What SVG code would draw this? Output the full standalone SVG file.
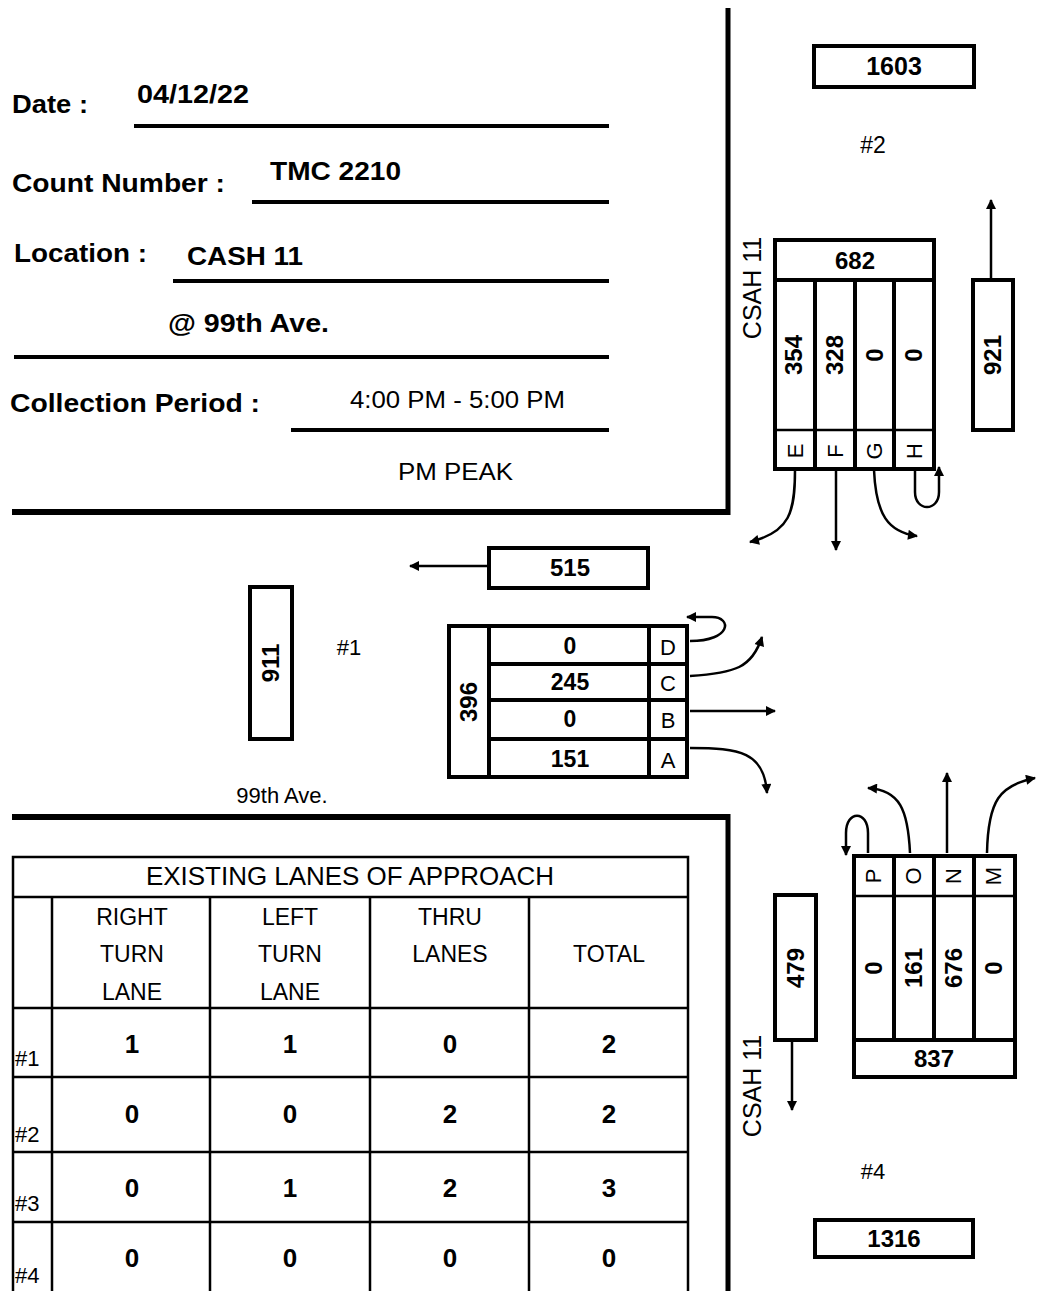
<svg xmlns="http://www.w3.org/2000/svg" width="1054" height="1291" viewBox="0 0 1054 1291">
<defs>
<style>
.b{font-family:"Liberation Sans",Arial,sans-serif;font-weight:bold;fill:#000}
.r{font-family:"Liberation Sans",Arial,sans-serif;fill:#000}
.box{fill:none;stroke:#000;stroke-width:4}
.ln{stroke:#000;stroke-width:4;fill:none}
.thin{stroke:#000;stroke-width:2.5;fill:none}
.conn{fill:none;stroke:#000;stroke-width:2.5;marker-end:url(#ah)}
.tb{stroke:#000;stroke-width:2.5;fill:none}
</style>
<marker id="ah" viewBox="0 0 10 10" refX="9" refY="5" markerWidth="5" markerHeight="4" orient="auto" markerUnits="strokeWidth">
<path d="M0,0 L10,5 L0,10 z" fill="#000"/>
</marker>
</defs>
<rect width="1054" height="1291" fill="#fff"/>

<g id="frame">
<line class="ln" x1="728" y1="8" x2="728" y2="515" style="stroke-width:5"/>
<line class="ln" x1="12" y1="512" x2="730" y2="512" style="stroke-width:6"/>
<line class="ln" x1="12" y1="817" x2="730" y2="817" style="stroke-width:6"/>
<line class="ln" x1="728" y1="814" x2="728" y2="1291" style="stroke-width:5"/>
</g>

<g id="form">
<text class="b" x="12" y="113" font-size="25" textLength="76" lengthAdjust="spacingAndGlyphs">Date :</text>
<text class="b" x="137" y="103" font-size="26" textLength="112" lengthAdjust="spacingAndGlyphs">04/12/22</text>
<line class="ln" x1="134" y1="126" x2="609" y2="126"/>
<text class="b" x="12" y="192" font-size="25" textLength="213" lengthAdjust="spacingAndGlyphs">Count Number :</text>
<text class="b" x="270" y="180" font-size="25" textLength="131" lengthAdjust="spacingAndGlyphs">TMC 2210</text>
<line class="ln" x1="252" y1="202" x2="609" y2="202"/>
<text class="b" x="14" y="262" font-size="25" textLength="133" lengthAdjust="spacingAndGlyphs">Location :</text>
<text class="b" x="187" y="265" font-size="25" textLength="116" lengthAdjust="spacingAndGlyphs">CASH 11</text>
<line class="ln" x1="173" y1="281" x2="609" y2="281"/>
<text class="b" x="168" y="332" font-size="25" textLength="161" lengthAdjust="spacingAndGlyphs">@ 99th Ave.</text>
<line class="ln" x1="14" y1="357" x2="609" y2="357"/>
<text class="b" x="10" y="412" font-size="25" textLength="250" lengthAdjust="spacingAndGlyphs">Collection Period :</text>
<text class="r" x="350" y="408" font-size="24" textLength="215" lengthAdjust="spacingAndGlyphs">4:00 PM - 5:00 PM</text>
<line class="ln" x1="291" y1="430" x2="609" y2="430"/>
<text class="r" x="398" y="480" font-size="24" textLength="115" lengthAdjust="spacingAndGlyphs">PM PEAK</text>
</g>

<g id="approach2">
<rect class="box" x="814" y="46" width="160" height="41"/>
<text class="b" x="894" y="75" font-size="25" text-anchor="middle">1603</text>
<text class="r" x="873" y="153" font-size="23" text-anchor="middle">#2</text>
<text class="r" font-size="25" text-anchor="middle" transform="translate(761,288) rotate(-90)">CSAH 11</text>
<rect class="box" x="775" y="240" width="159" height="229"/>
<line class="ln" x1="775" y1="280" x2="934" y2="280"/>
<line class="thin" x1="775" y1="430" x2="934" y2="430"/>
<line class="ln" x1="815" y1="280" x2="815" y2="469"/>
<line class="ln" x1="855" y1="280" x2="855" y2="469"/>
<line class="ln" x1="894" y1="280" x2="894" y2="469"/>
<text class="b" x="855" y="269" font-size="24" text-anchor="middle">682</text>
<text class="b" font-size="24" text-anchor="middle" transform="translate(802,355) rotate(-90)">354</text>
<text class="b" font-size="24" text-anchor="middle" transform="translate(843,355) rotate(-90)">328</text>
<text class="b" font-size="24" text-anchor="middle" transform="translate(883,355) rotate(-90)">0</text>
<text class="b" font-size="24" text-anchor="middle" transform="translate(922,355) rotate(-90)">0</text>
<text class="r" font-size="22" text-anchor="middle" transform="translate(803,451) rotate(-90)">E</text>
<text class="r" font-size="22" text-anchor="middle" transform="translate(843,451) rotate(-90)">F</text>
<text class="r" font-size="22" text-anchor="middle" transform="translate(882,451) rotate(-90)">G</text>
<text class="r" font-size="22" text-anchor="middle" transform="translate(922,451) rotate(-90)">H</text>
<rect class="box" x="973" y="280" width="40" height="150"/>
<text class="b" font-size="24" text-anchor="middle" transform="translate(1001,355) rotate(-90)">921</text>
</g>

<g id="approach1">
<rect class="box" x="489" y="548" width="159" height="40"/>
<text class="b" x="570" y="576" font-size="24" text-anchor="middle">515</text>
<rect class="box" x="250" y="587" width="42" height="152"/>
<text class="b" font-size="24" text-anchor="middle" transform="translate(279,663) rotate(-90)">911</text>
<text class="r" x="349" y="655" font-size="22" text-anchor="middle">#1</text>
<rect class="box" x="449" y="626" width="238" height="151"/>
<line class="ln" x1="489" y1="626" x2="489" y2="777"/>
<line class="ln" x1="649" y1="626" x2="649" y2="777"/>
<line class="ln" x1="489" y1="664" x2="687" y2="664"/>
<line class="ln" x1="489" y1="700" x2="687" y2="700"/>
<line class="ln" x1="489" y1="739" x2="687" y2="739"/>
<text class="b" font-size="24" text-anchor="middle" transform="translate(477,702) rotate(-90)">396</text>
<text class="b" x="570" y="654" font-size="23" text-anchor="middle">0</text>
<text class="b" x="570" y="690" font-size="23" text-anchor="middle">245</text>
<text class="b" x="570" y="727" font-size="23" text-anchor="middle">0</text>
<text class="b" x="570" y="767" font-size="23" text-anchor="middle">151</text>
<text class="r" x="668" y="655" font-size="22" text-anchor="middle">D</text>
<text class="r" x="668" y="691" font-size="22" text-anchor="middle">C</text>
<text class="r" x="668" y="728" font-size="22" text-anchor="middle">B</text>
<text class="r" x="668" y="768" font-size="22" text-anchor="middle">A</text>
<text class="r" x="282" y="803" font-size="22" text-anchor="middle">99th Ave.</text>
</g>

<g id="approach4">
<rect class="box" x="775" y="895" width="41" height="145"/>
<text class="b" font-size="24" text-anchor="middle" transform="translate(804,968) rotate(-90)">479</text>
<text class="r" font-size="25" text-anchor="middle" transform="translate(761,1086) rotate(-90)">CSAH 11</text>
<rect class="box" x="854" y="856" width="161" height="221"/>
<line class="thin" x1="854" y1="896" x2="1015" y2="896"/>
<line class="ln" x1="854" y1="1040" x2="1015" y2="1040"/>
<line class="ln" x1="894" y1="856" x2="894" y2="1040"/>
<line class="ln" x1="934" y1="856" x2="934" y2="1040"/>
<line class="ln" x1="974" y1="856" x2="974" y2="1040"/>
<text class="r" font-size="22" text-anchor="middle" transform="translate(881,876) rotate(-90)">P</text>
<text class="r" font-size="22" text-anchor="middle" transform="translate(921,876) rotate(-90)">O</text>
<text class="r" font-size="22" text-anchor="middle" transform="translate(961,876) rotate(-90)">N</text>
<text class="r" font-size="22" text-anchor="middle" transform="translate(1001,876) rotate(-90)">M</text>
<text class="b" font-size="24" text-anchor="middle" transform="translate(882,968) rotate(-90)">0</text>
<text class="b" font-size="24" text-anchor="middle" transform="translate(922,968) rotate(-90)">161</text>
<text class="b" font-size="24" text-anchor="middle" transform="translate(962,968) rotate(-90)">676</text>
<text class="b" font-size="24" text-anchor="middle" transform="translate(1002,968) rotate(-90)">0</text>
<text class="b" x="934" y="1067" font-size="24" text-anchor="middle">837</text>
<text class="r" x="873" y="1179" font-size="22" text-anchor="middle">#4</text>
<rect class="box" x="815" y="1220" width="158" height="37"/>
<text class="b" x="894" y="1247" font-size="24" text-anchor="middle">1316</text>
</g>

<g id="connectors">
<path class="conn" d="M991,279 L991,200"/>
<path class="conn" d="M795,470 C795,512 790,532 750,542"/>
<path class="conn" d="M836,470 L836,550"/>
<path class="conn" d="M874,470 C876,515 888,532 917,536"/>
<path class="conn" d="M915,470 L915,492 C915,512 939,512 939,492 L939,467"/>
<path class="conn" d="M488,566 L410,566"/>
<path class="conn" d="M690,641 C732,641 732,617 712,617 L687,617"/>
<path class="conn" d="M690,676 C735,673 752,668 762,637"/>
<path class="conn" d="M690,711 L775,711"/>
<path class="conn" d="M690,748 C740,748 764,752 767,793"/>
<path class="conn" d="M792,1040 L792,1110"/>
<path class="conn" d="M868,853 L868,833 C868,810 846,810 846,833 L846,855"/>
<path class="conn" d="M910,853 C908,810 900,790 868,788"/>
<path class="conn" d="M947,853 L947,773"/>
<path class="conn" d="M987,853 C988,800 1000,785 1035,778"/>
</g>

<g id="lanes-table">
<rect class="tb" x="13" y="857" width="675" height="440"/>
<line class="tb" x1="13" y1="897" x2="688" y2="897"/>
<line class="tb" x1="13" y1="1008" x2="688" y2="1008"/>
<line class="tb" x1="13" y1="1077" x2="688" y2="1077"/>
<line class="tb" x1="13" y1="1152" x2="688" y2="1152"/>
<line class="tb" x1="13" y1="1222" x2="688" y2="1222"/>
<line class="tb" x1="52" y1="897" x2="52" y2="1297"/>
<line class="tb" x1="210" y1="897" x2="210" y2="1297"/>
<line class="tb" x1="370" y1="897" x2="370" y2="1297"/>
<line class="tb" x1="529" y1="897" x2="529" y2="1297"/>
<text class="r" x="350" y="885" font-size="25" text-anchor="middle" textLength="408" lengthAdjust="spacingAndGlyphs">EXISTING LANES OF APPROACH</text>
<text class="r" x="132" y="925" font-size="23" text-anchor="middle">RIGHT</text>
<text class="r" x="132" y="962" font-size="23" text-anchor="middle">TURN</text>
<text class="r" x="132" y="1000" font-size="23" text-anchor="middle">LANE</text>
<text class="r" x="290" y="925" font-size="23" text-anchor="middle">LEFT</text>
<text class="r" x="290" y="962" font-size="23" text-anchor="middle">TURN</text>
<text class="r" x="290" y="1000" font-size="23" text-anchor="middle">LANE</text>
<text class="r" x="450" y="925" font-size="23" text-anchor="middle">THRU</text>
<text class="r" x="450" y="962" font-size="23" text-anchor="middle">LANES</text>
<text class="r" x="609" y="962" font-size="23" text-anchor="middle">TOTAL</text>
<text class="r" x="15" y="1066" font-size="22">#1</text>
<text class="r" x="15" y="1142" font-size="22">#2</text>
<text class="r" x="15" y="1211" font-size="22">#3</text>
<text class="r" x="15" y="1283" font-size="22">#4</text>
<g class="b" font-size="26" text-anchor="middle">
<text x="132" y="1053">1</text><text x="290" y="1053">1</text><text x="450" y="1053">0</text><text x="609" y="1053">2</text>
<text x="132" y="1123">0</text><text x="290" y="1123">0</text><text x="450" y="1123">2</text><text x="609" y="1123">2</text>
<text x="132" y="1197">0</text><text x="290" y="1197">1</text><text x="450" y="1197">2</text><text x="609" y="1197">3</text>
<text x="132" y="1267">0</text><text x="290" y="1267">0</text><text x="450" y="1267">0</text><text x="609" y="1267">0</text>
</g>
</g>
</svg>
